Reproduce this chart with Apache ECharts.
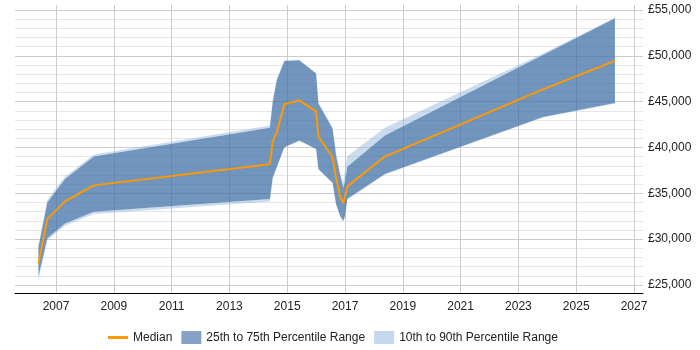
<!DOCTYPE html>
<html>
<head>
<meta charset="utf-8">
<script src="https://cdn.jsdelivr.net/npm/echarts@6/dist/echarts.min.js"></script>
<style>
  html, body { margin: 0; padding: 0; background: #fff; }
  #chart { width: 700px; height: 350px; }
</style>
</head>
<body>
<div id="chart"></div>
<script>
// sample dates (decimal years) shared by every series
var years = [2006.39, 2006.70, 2007.31, 2008.31, 2014.40, 2014.50, 2014.64, 2014.90, 2015.42, 2016.00,
             2016.08, 2016.57, 2016.69, 2016.83, 2016.94, 2017.00, 2017.08, 2018.38, 2023.85, 2026.34];

var median = [27330, 32190, 34120, 35870, 38180, 40660, 41640, 44710, 45140, 43940,
              41200, 38940, 36750, 34650, 33900, 33900, 35760, 39010, 46340, 49450];

var p10 = [25600, 29900, 31460, 32740, 34120, 36600, 37800, 40000, 40700, 39800,
           37600, 36100, 33750, 32450, 31900, 32400, 34300, 37050, 43280, 44800];
var p25 = [25900, 30110, 31710, 32990, 34380, 36750, 37880, 40030, 40760, 39850,
           37660, 36150, 33830, 32550, 32000, 32500, 34400, 37120, 43320, 44850];
var p75 = [29080, 34010, 36570, 39010, 42150, 44960, 47330, 49450, 49520, 48070,
           44780, 42040, 39120, 37000, 35600, 36300, 37900, 41310, 50090, 54090];
var p90 = [29300, 34300, 36820, 39230, 42410, 45200, 47500, 49500, 49550, 48100,
           44900, 42200, 39400, 37200, 36200, 37600, 39050, 42150, 50250, 54150];

var xLabels = [2007, 2009, 2011, 2013, 2015, 2017, 2019, 2021, 2023, 2025, 2027];
var yLabels = [25000, 30000, 35000, 40000, 45000, 50000, 55000];
var yLines = [];
for (var v = 25000; v <= 55000; v += 1000) yLines.push(v);

var darkColor = 'rgba(66,114,167,0.75)';
var lightColor = 'rgba(150,185,222,0.5)';

// polygon between two percentile arrays, drawn once for the series
function bandRender(pairs, color) {
    return function (params, api) {
        if (params.dataIndex !== 0) return;
        var kids = pairs.map(function (p) {
            var lo = p[0], hi = p[1], pts = [];
            for (var i = 0; i < years.length; i++) pts.push(api.coord([years[i], hi[i]]));
            for (var j = years.length - 1; j >= 0; j--) pts.push(api.coord([years[j], lo[j]]));
            return { type: 'polygon', shape: { points: pts }, style: { fill: color } };
        });
        return { type: 'group', children: kids };
    };
}

var chart = echarts.init(document.getElementById('chart'));
chart.setOption({
    animation: false,
    textStyle: { fontFamily: 'Liberation Sans, Arial, sans-serif' },
    grid: { left: 15, right: 57, top: 5, bottom: 57 },
    legend: {
        left: 103,
        top: 326,
        itemWidth: 20,
        itemHeight: 13,
        itemGap: 9,
        textStyle: { fontSize: 12, color: '#222' },
        data: [
            { name: 'Median', icon: 'path://M0,0L20,0L20,3L0,3Z' },
            { name: '25th to 75th Percentile Range', icon: 'rect' },
            { name: '10th to 90th Percentile Range', icon: 'rect' }
        ]
    },
    xAxis: {
        type: 'value',
        min: 2005.581,
        max: 2027.311,
        axisLine: { lineStyle: { color: '#000', width: 1 } },
        axisTick: { show: false, customValues: xLabels },
        axisLabel: {
            customValues: xLabels,
            color: '#222',
            fontSize: 12,
            margin: 8,
            formatter: function (v) { return String(v); }
        },
        splitLine: { show: true, lineStyle: { color: '#cccccc', width: 1 } }
    },
    yAxis: {
        type: 'value',
        position: 'right',
        min: 24130,
        max: 55545,
        axisLine: { show: false },
        axisTick: { show: false, customValues: yLines },
        axisLabel: {
            customValues: yLabels,
            color: '#222',
            fontSize: 12,
            margin: 5,
            formatter: function (v) { return '£' + v.toLocaleString('en-GB'); }
        },
        splitLine: {
            show: true,
            lineStyle: { color: ['#cccccc', '#e6e6e6', '#e6e6e6', '#e6e6e6', '#e6e6e6'], width: 1 }
        }
    },
    series: [
        {
            name: '10th to 90th Percentile Range',
            type: 'custom',
            itemStyle: { color: '#c6d8ec' },
            data: [[years[0], p10[0]]],
            renderItem: bandRender([[p10, p25], [p75, p90]], lightColor),
            silent: true
        },
        {
            name: '25th to 75th Percentile Range',
            type: 'custom',
            itemStyle: { color: '#86a3c6' },
            data: [[years[0], p25[0]]],
            renderItem: bandRender([[p25, p75]], darkColor),
            silent: true
        },
        {
            name: 'Median',
            type: 'line',
            symbol: 'none',
            color: '#ff9900',
            lineStyle: { color: '#ff9900', width: 2 },
            data: years.map(function (y, i) { return [y, median[i]]; }),
            z: 5
        }
    ]
});
</script>
</body>
</html>
